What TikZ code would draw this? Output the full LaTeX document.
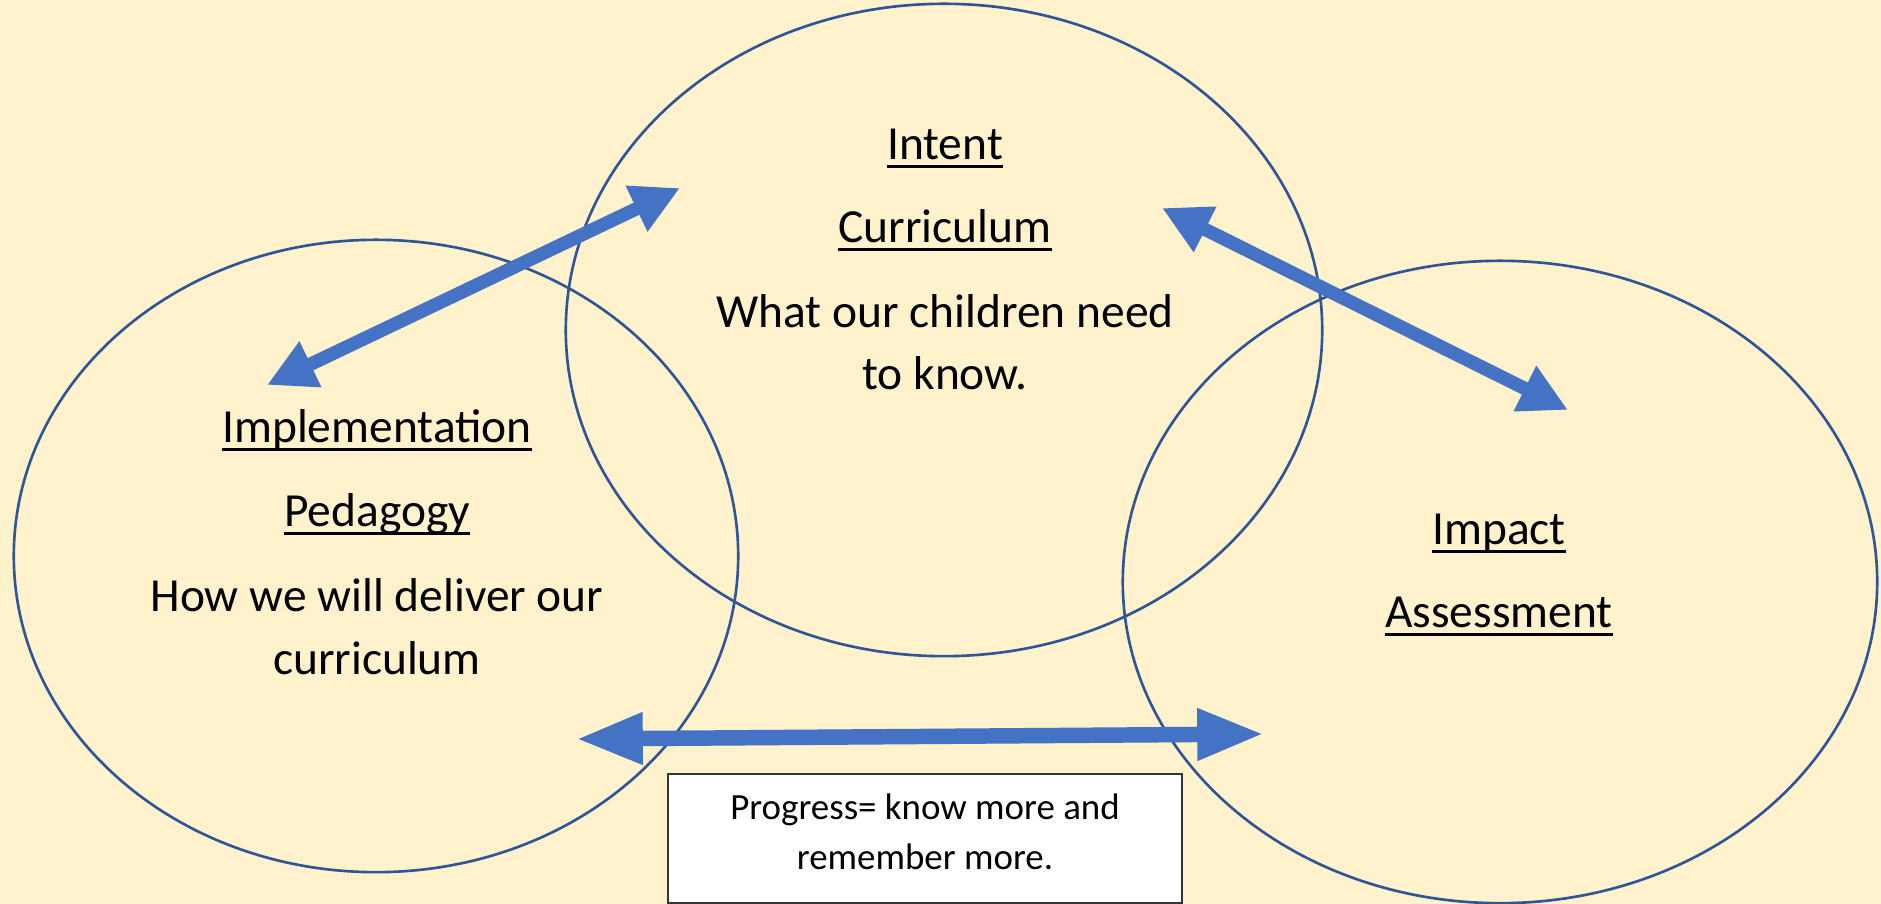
\documentclass[tikz,border=0pt]{standalone}
\usepackage{fontspec}
\setmainfont{Carlito}
\usepackage{tikz}
\usetikzlibrary{arrows.meta, shapes.geometric}
\definecolor{paleGold}{HTML}{FFF2CC}
\definecolor{ringBlue}{HTML}{2F5597}
\definecolor{arrowBlue}{HTML}{4472C4}
% underline at a fixed depth, as in the slide
\newcommand{\undl}[1]{\setbox0\hbox{#1}\rlap{\rule[-2.4pt]{\wd0}{0.85pt}}\box0}
\tikzset{%
  % Specifications for style of nodes:
       ring/.style = {ellipse, draw=ringBlue, line width=0.75pt, inner sep=0pt},
   headline/.style = {anchor=base, inner sep=0pt,
                      font=\fontsize{13.5}{17.6}\selectfont},
   bodyline/.style = {headline},
   noteline/.style = {anchor=base, inner sep=0pt,
                      font=\fontsize{10.5}{14}\selectfont},
    notebox/.style = {rectangle, draw=black!80, line width=0.5pt, fill=white,
                      minimum width=5.14cm, minimum height=1.29cm, inner sep=0pt},
  % Specifications for style of arrows:
  linkArrow/.style = {draw=arrowBlue, line width=3.8pt,
                      {Triangle[length=13.7pt,width=13.5pt]}-{Triangle[length=13.7pt,width=13.5pt]}},
  longArrow/.style = {draw=arrowBlue, line width=4.4pt,
                      {Triangle[length=19pt,width=13.7pt]}-{Triangle[length=19pt,width=13.7pt]}},
}
\begin{document}
\begin{tikzpicture}[x=0.01cm, y=-0.01cm]
  % Background and size of the page
  \fill[paleGold] (0,0) rectangle (1881,904);
  \useasboundingbox (0,0) rectangle (1881,904);
  % Specification of the three rings
  \node (implementationRing) [ring, minimum width=7.24cm, minimum height=6.32cm]
                                                        at (376,556) {};
  \node (intentRing)         [ring, minimum width=7.56cm, minimum height=6.52cm]
                                                        at (944,330) {};
  \node (impactRing)         [ring, minimum width=7.54cm, minimum height=6.42cm]
                                                        at (1500,582) {};
  % Texts of the rings
  \node (intentHead)       [headline] at (945,160) {\undl{Intent}};
  \node (curriculumHead)   [headline] at (945,243) {\undl{Curriculum}};
  \node (intentText)       [bodyline] at (945,328) {What our children need};
  \node (intentTextB)      [bodyline] at (945,390) {to know.};
  \node (implementHead)    [headline] at (377,443) {\undl{Implementation}};
  \node (pedagogyHead)     [headline] at (377,527) {\undl{Pedagogy}};
  \node (implementText)    [bodyline] at (377,612) {How we will deliver our};
  \node (implementTextB)   [bodyline] at (377,675) {curriculum};
  \node (impactHead)       [headline] at (1499,545) {\undl{Impact}};
  \node (assessmentHead)   [headline] at (1499,628) {\undl{Assessment}};
  % Free ends of the arrows
  \coordinate (pedagogyEnd)   at (267,385);
  \coordinate (intentEndL)    at (680,188);
  \coordinate (intentEndR)    at (1162,208);
  \coordinate (impactEnd)     at (1568,410);
  \coordinate (progressEndL)  at (576,739);
  \coordinate (progressEndR)  at (1264,734);
  % Specification of the arrows
  \draw[linkArrow]  (pedagogyEnd) -- (intentEndL);
  \draw[linkArrow]   (intentEndR) -- (impactEnd);
  \draw[longArrow] (progressEndL) -- (progressEndR);
  % Note box at the bottom
  \node (progressBox)   [notebox]  at (925,838.5) {};
  \node (progressText)  [noteline] at (925,820) {Progress= know more and};
  \node (progressTextB) [noteline] at (925,870) {remember more.};
\end{tikzpicture}
\end{document}
